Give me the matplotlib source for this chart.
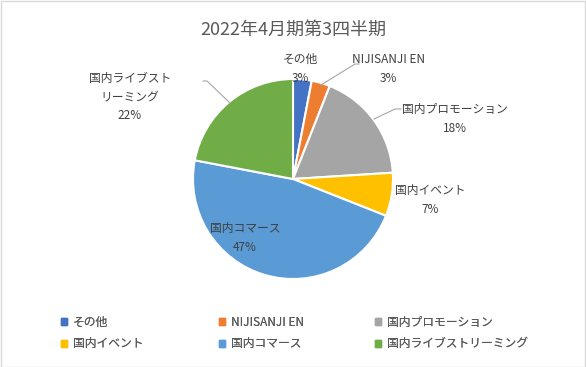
import matplotlib
matplotlib.use("Agg")
import matplotlib.pyplot as plt
import matplotlib.patches as mpatches

plt.rcParams['font.family'] = ['Noto Sans CJK JP', 'DejaVu Sans']

# data
labels = ["その他", "NIJISANJI EN", "国内プロモーション", "国内イベント", "国内コマース", "国内ライブストリーミング"]
label_text = ["その他", "NIJISANJI EN", "国内プロモーション", "国内イベント", "国内コマース", "国内ライブスト\nリーミング"]
shares = [3, 3, 18, 7, 47, 22]
colors = ["#4472C4", "#ED7D31", "#A5A5A5", "#FFC000", "#5B9BD5", "#70AD47"]
title = "2022年4月期第3四半期"

# label positions (data units, pie radius = 1) and optional leader lines
label_pos = [(0.07, 1.10), (0.95, 1.10), (1.62, 0.60), (1.37, -0.21), (-0.48, -0.59), (-1.63, 0.82)]
leaders = [None,
           [(0.28, 0.94), (0.62, 1.15), (0.66, 1.15)],
           [(0.81, 0.60), (1.02, 0.70), (1.08, 0.70)],
           None,
           None,
           [(-0.63, 0.76), (-0.86, 0.98), (-0.90, 0.98)]]

W, H = 586, 367
fig = plt.figure(figsize=(W / 100, H / 100), dpi=100)
fig.patches.append(mpatches.Rectangle((0.5 / W, 0.5 / H), 1 - 1.5 / W, 1 - 1.5 / H,
                                      transform=fig.transFigure, fill=False,
                                      edgecolor="#D9D9D9", linewidth=1))

cx, cy, r = 293, 179, 100
ax = fig.add_axes([(cx - r) / W, (H - cy - r) / H, 2 * r / W, 2 * r / H])
wedges, _ = ax.pie(shares, colors=colors, startangle=90, counterclock=False,
                   radius=1, wedgeprops=dict(edgecolor="white", linewidth=1.5))
ax.set_xlim(-1, 1)
ax.set_ylim(-1, 1)
ax.set_aspect("equal")
ax.axis("off")

for txt, val, (x, y), ld in zip(label_text, shares, label_pos, leaders):
    ax.text(x, y, f"{txt}\n{val}%", ha="center", va="center", fontsize=8.5,
            color="#404040", linespacing=1.55, clip_on=False)
    if ld:
        xs, ys = zip(*ld)
        ax.plot(xs, ys, color="#A6A6A6", linewidth=0.8, clip_on=False)

fig.text(cx / W, 1 - 30 / H, title, ha="center", va="center", fontsize=13, color="#595959")

# legend: three equally spaced columns, row-major order
col_x = [61, 219, 375]
for c, x in enumerate(col_x):
    idx = [c, c + 3]
    handles = [mpatches.Patch(color=colors[i]) for i in idx]
    leg = fig.legend(handles, [labels[i] for i in idx], loc="center left",
                     bbox_to_anchor=(x / W, 1 - 333 / H), frameon=False, fontsize=8.5,
                     labelcolor="#595959", handlelength=0.5, handleheight=0.5,
                     handletextpad=0.5, labelspacing=0.75, borderpad=0, borderaxespad=0)
    fig.add_artist(leg)

fig.savefig("out.png", dpi=100)
